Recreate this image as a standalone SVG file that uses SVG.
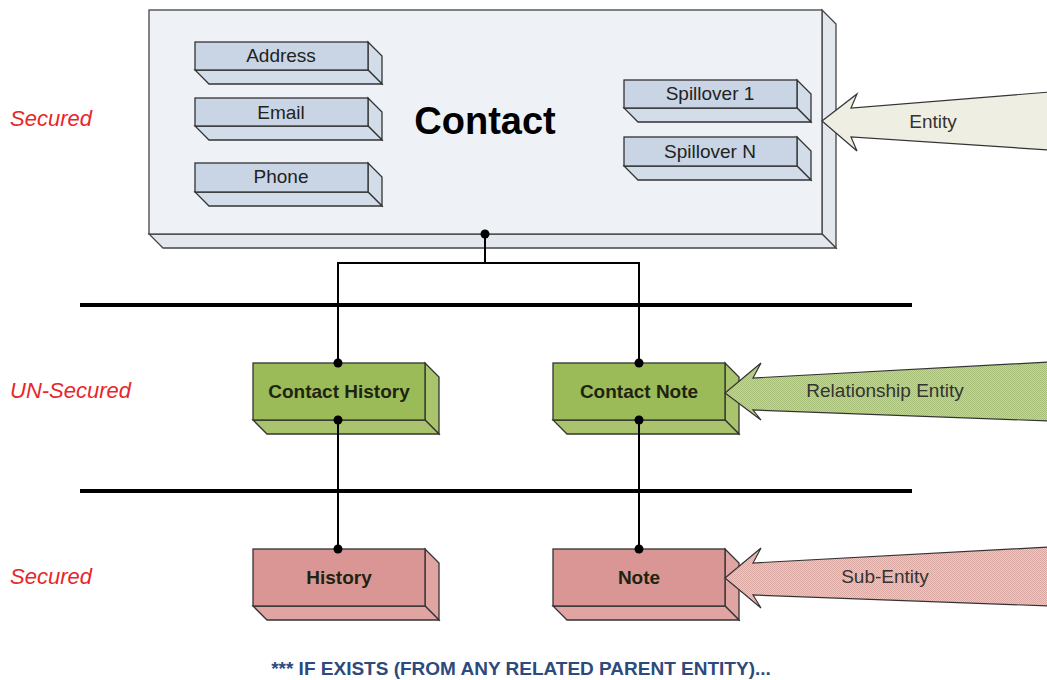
<svg xmlns="http://www.w3.org/2000/svg" width="1047" height="680" viewBox="0 0 1047 680">
<defs>
<style>
.lbl{font-family:"Liberation Sans",Arial,sans-serif;font-style:italic;font-size:22px;fill:#e8262a}
.small{font-family:"Liberation Sans",Arial,sans-serif;font-size:19px;fill:#222;text-anchor:middle}
.bold{font-family:"Liberation Sans",Arial,sans-serif;font-size:19px;font-weight:bold;fill:#1e2410;text-anchor:middle}
.arrowtxt{font-family:"Liberation Sans",Arial,sans-serif;font-size:19px;fill:#333;text-anchor:middle}
.edge{stroke:#333;stroke-width:1.3;stroke-linejoin:miter}
.blue .f{fill:#c9d5e4}.blue .s{fill:#d3dde9}
.green .f{fill:#9bbb59}.green .s{fill:#a9c46c}
.red .f{fill:#d99694}.red .s{fill:#e0a5a3}
.conn{stroke:#000;stroke-width:2;fill:none}
.bar{stroke:#000;stroke-width:4}
</style>
<pattern id="hg" width="2" height="2" patternUnits="userSpaceOnUse"><rect width="2" height="2" fill="#c3d59f"/><rect width="1" height="1" fill="#a8bf7a"/><rect x="1" y="1" width="1" height="1" fill="#a8bf7a"/></pattern>
<pattern id="hr" width="2" height="2" patternUnits="userSpaceOnUse"><rect width="2" height="2" fill="#ebc9c4"/><rect width="1" height="1" fill="#d9a8a2"/><rect x="1" y="1" width="1" height="1" fill="#d9a8a2"/></pattern>
</defs>
<rect width="1047" height="680" fill="#fff"/>

<g id="contact">
<polygon points="822,10 836,24 836,248 822,234" fill="#e3e8ef" stroke="#444" stroke-width="1.3"/>
<polygon points="149,234 822,234 836,248 163,248" fill="#e3e8ef" stroke="#444" stroke-width="1.3"/>
<rect x="149" y="10" width="673" height="224" fill="#eef1f6" stroke="#444" stroke-width="1.3"/>
<text x="485" y="134" font-family="Liberation Sans,Arial,sans-serif" font-size="38" font-weight="bold" text-anchor="middle" fill="#000">Contact</text>
</g>

<g id="address" class="blue edge">
<polygon class="s" points="368,42 382,56 382,84 368,70"/>
<polygon class="s" points="195,70 368,70 382,84 209,84"/>
<rect class="f" x="195" y="42" width="173" height="28"/>
<text class="small" x="281" y="62" stroke="none">Address</text>
</g>
<g id="email" class="blue edge">
<polygon class="s" points="368,98 382,112 382,140 368,126"/>
<polygon class="s" points="195,126 368,126 382,140 209,140"/>
<rect class="f" x="195" y="98" width="173" height="28"/>
<text class="small" x="281" y="119" stroke="none">Email</text>
</g>
<g id="phone" class="blue edge">
<polygon class="s" points="368,163 382,177 382,206 368,192"/>
<polygon class="s" points="195,192 368,192 382,206 209,206"/>
<rect class="f" x="195" y="163" width="173" height="29"/>
<text class="small" x="281" y="183" stroke="none">Phone</text>
</g>
<g id="spillover1" class="blue edge">
<polygon class="s" points="797,80 811,94 811,122 797,108"/>
<polygon class="s" points="624,108 797,108 811,122 638,122"/>
<rect class="f" x="624" y="80" width="173" height="28"/>
<text class="small" x="710" y="100" stroke="none">Spillover 1</text>
</g>
<g id="spilloverN" class="blue edge">
<polygon class="s" points="797,137 811,151 811,180 797,166"/>
<polygon class="s" points="624,166 797,166 811,180 638,180"/>
<rect class="f" x="624" y="137" width="173" height="29"/>
<text class="small" x="710" y="158" stroke="none">Spillover N</text>
</g>

<g id="bars">
<line class="bar" x1="80" y1="305" x2="912" y2="305"/>
<line class="bar" x1="80" y1="491" x2="912" y2="491"/>
</g>

<g id="contact-history" class="green edge">
<polygon class="s" points="425,363 439,377 439,434 425,420"/>
<polygon class="s" points="253,420 425,420 439,434 267,434"/>
<rect class="f" x="253" y="363" width="172" height="57"/>
<text class="bold" x="339" y="398" stroke="none">Contact History</text>
</g>
<g id="contact-note" class="green edge">
<polygon class="s" points="725,363 739,377 739,434 725,420"/>
<polygon class="s" points="553,420 725,420 739,434 567,434"/>
<rect class="f" x="553" y="363" width="172" height="57"/>
<text class="bold" x="639" y="398" stroke="none">Contact Note</text>
</g>
<g id="history" class="red edge">
<polygon class="s" points="425,549 439,563 439,620 425,606"/>
<polygon class="s" points="253,606 425,606 439,620 267,620"/>
<rect class="f" x="253" y="549" width="172" height="57"/>
<text class="bold" x="339" y="584" stroke="none">History</text>
</g>
<g id="note" class="red edge">
<polygon class="s" points="725,549 739,563 739,620 725,606"/>
<polygon class="s" points="553,606 725,606 739,620 567,620"/>
<rect class="f" x="553" y="549" width="172" height="57"/>
<text class="bold" x="639" y="584" stroke="none">Note</text>
</g>

<g id="connectors">
<polyline class="conn" points="485,234 485,263 338,263 338,363"/>
<polyline class="conn" points="485,263 639,263 639,363"/>
<line class="conn" x1="338" y1="420" x2="338" y2="549"/>
<line class="conn" x1="639" y1="420" x2="639" y2="549"/>
<g fill="#000">
<circle cx="485" cy="234" r="4.5"/>
<circle cx="338" cy="363" r="4.5"/>
<circle cx="639" cy="363" r="4.5"/>
<circle cx="338" cy="420" r="4.5"/>
<circle cx="639" cy="420" r="4.5"/>
<circle cx="338" cy="549" r="4.5"/>
<circle cx="639" cy="549" r="4.5"/>
</g>
</g>

<g id="entity-arrow">
<polygon points="822,121 857,94 851,108 1050,92 1050,150 851,137 857,151" fill="#eeeee2" stroke="#333" stroke-width="1.2"/>
<text class="arrowtxt" x="933" y="128">Entity</text>
</g>
<g id="relationship-arrow">
<polygon points="725,393 761,363 753,378 1050,362 1050,421 753,410 761,420" fill="url(#hg)" stroke="#333" stroke-width="1.2"/>
<text class="arrowtxt" x="885" y="397">Relationship Entity</text>
</g>
<g id="subentity-arrow">
<polygon points="725,578 761,548 753,563 1050,547 1050,606 753,595 761,608" fill="url(#hr)" stroke="#333" stroke-width="1.2"/>
<text class="arrowtxt" x="885" y="583">Sub-Entity</text>
</g>

<g id="labels">
<text class="lbl" x="10" y="126">Secured</text>
<text class="lbl" x="10" y="398">UN-Secured</text>
<text class="lbl" x="10" y="584">Secured</text>
</g>

<text x="521" y="675" font-family="Liberation Sans,Arial,sans-serif" font-size="19" font-weight="bold" fill="#2c4a7c" text-anchor="middle">*** IF EXISTS (FROM ANY RELATED PARENT ENTITY)...</text>
</svg>
